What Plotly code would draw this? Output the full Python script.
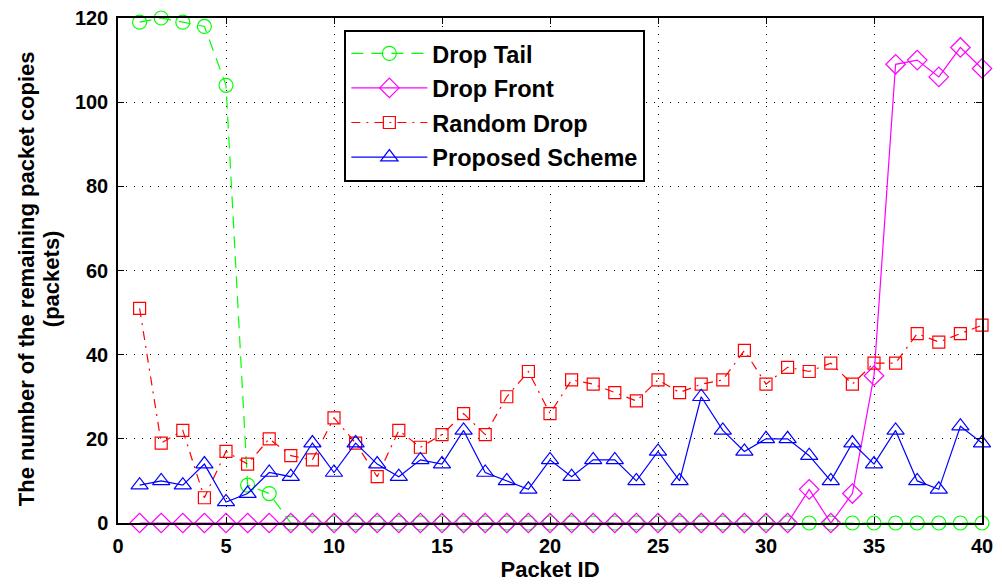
import plotly.graph_objects as go

# Packet IDs 1..40
packet_id = list(range(1, 41))

# Remaining packet copies per buffer-management policy
drop_tail = [119, 120, 119, 118, 104, 9, 7] + [0] * 33
drop_front = [0] * 31 + [8, 0, 7, 35, 109, 110, 106, 113, 108]
random_drop = [51, 19, 22, 6, 17, 14, 20, 16, 15, 25,
               19, 11, 22, 18, 21, 26, 21, 30, 36, 26,
               34, 33, 31, 29, 34, 31, 33, 34, 41, 33,
               37, 36, 38, 33, 38, 38, 45, 43, 45, 47]
proposed = [9, 10, 9, 14, 5, 7, 12, 11, 19, 12,
            19, 14, 11, 15, 14, 22, 12, 10, 8, 15,
            11, 15, 15, 10, 17, 10, 30, 22, 17, 20,
            20, 16, 10, 19, 14, 22, 10, 8, 23, 19]

x_ticks = [0, 5, 10, 15, 20, 25, 30, 35, 40]
y_ticks = [0, 20, 40, 60, 80, 100, 120]

FONT = "Liberation Sans, Arial, sans-serif"

series = [
    ("Drop Tail", drop_tail, "#00ff00", "12px,8px", "circle-open", 14),
    ("Drop Front", drop_front, "#ff00ff", "solid", "diamond-open", 15),
    ("Random Drop", random_drop, "#ff0000", "9px,6px,2px,6px", "square-open", 12),
    ("Proposed Scheme", proposed, "#0000ff", "solid", "triangle-up-open", 15),
]

fig = go.Figure()
for name, values, color, dash, symbol, msize in series:
    fig.add_trace(go.Scatter(
        x=packet_id, y=values, name=name, legendgroup=name, mode="lines+markers",
        line=dict(color=color, width=1.2, dash=dash),
        marker=dict(symbol=symbol, size=msize, color=color, line=dict(width=1.2)),
        cliponaxis=False,
    ))

axis_common = dict(
    showline=True, linecolor="black", linewidth=1.5, mirror="ticks",
    ticks="inside", ticklen=6, tickcolor="black", tickwidth=1,
    showgrid=True, gridcolor="#000000", gridwidth=1, griddash="1px,7px",
    zeroline=False, automargin=False,
    tickfont=dict(family=FONT, size=20, color="black", weight="bold"),
)

fig.update_xaxes(
    range=[0, 40], tickvals=x_ticks, ticktext=[str(v) for v in x_ticks],
    title=dict(text="Packet ID", font=dict(family=FONT, size=22, color="black", weight="bold"),
               standoff=4),
    ticklabelstandoff=4,
    **axis_common,
)
fig.update_yaxes(
    range=[0, 120], tickvals=y_ticks, ticktext=[str(v) for v in y_ticks],
    ticklabelstandoff=4,
    **axis_common,
)

# Two-line y-axis title, placed line by line for tighter spacing
title_font = dict(family=FONT, size=22, color="black", weight="bold")
for text, px in [("The number of the remaining packet copies", 26), ("(packets)", 51)]:
    fig.add_annotation(
        text=text, xref="paper", yref="paper",
        x=(px - 117.5) / 865, y=0.484, xanchor="center", yanchor="middle",
        textangle=-90, showarrow=False, font=title_font,
    )

fig.update_layout(
    width=1002, height=584,
    margin=dict(l=117.5, r=19.5, t=18, b=61),
    paper_bgcolor="white", plot_bgcolor="white",
    showlegend=True,
    legend=dict(
        x=0.262, y=0.977, xanchor="left", yanchor="top",
        bgcolor="white", bordercolor="black", borderwidth=2,
        font=dict(family=FONT, size=23.5, color="black", weight="bold"),
        itemwidth=76, tracegroupgap=1,
    ),
)

fig.write_html("out.html")
